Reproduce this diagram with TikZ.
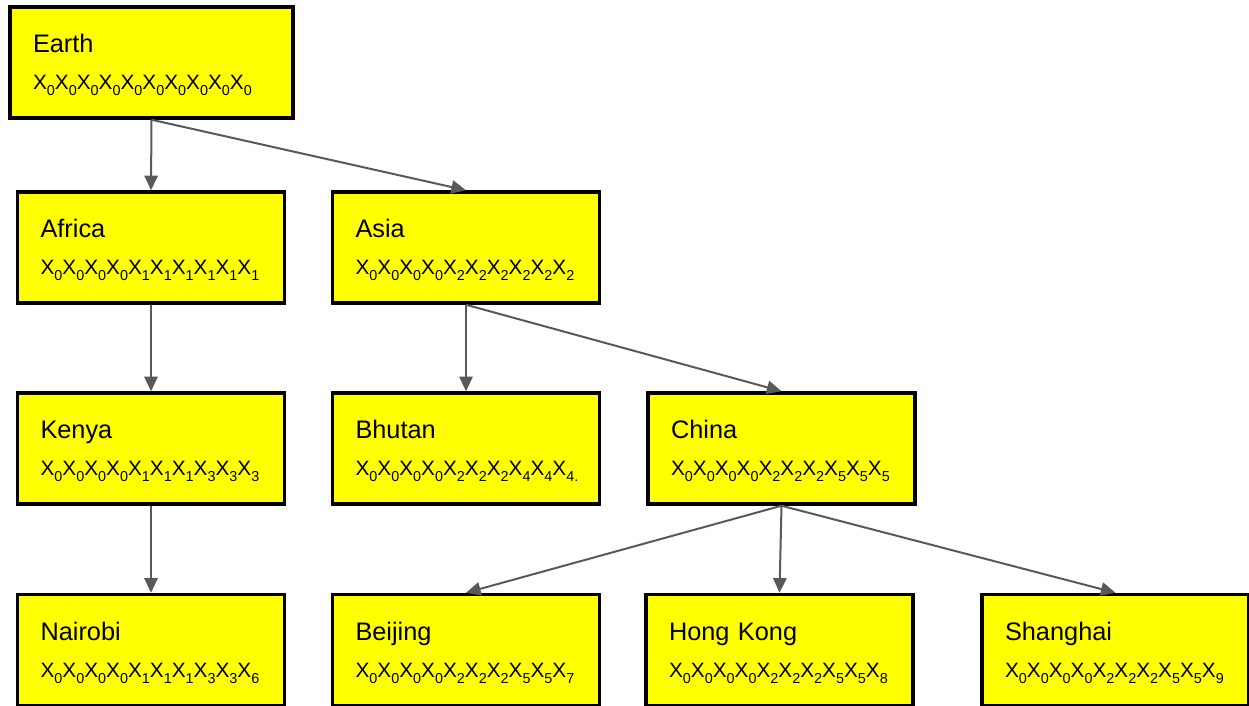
\documentclass[tikz,border=0pt]{standalone}
\usepackage{fontspec}
\setmainfont{Liberation Sans}
\usetikzlibrary{arrows.meta}

\definecolor{linkgray}{RGB}{89,89,89}
\definecolor{boxyellow}{RGB}{255,255,0}
\newcommand\xsub[1]{X\raisebox{-4.5pt}{\fontsize{10.8pt}{10pt}\selectfont #1}}
\newcommand\xrow[1]{{\fontsize{15.6pt}{27.75pt}\selectfont\foreach \d in {#1}{\xsub{\d}}}}

\tikzset{every picture/.style={line width=0.75pt}}
\tikzset{
  place/.style={draw=black, line width=2.6pt, fill=boxyellow, text width=165.75pt, inner xsep=17.25pt, minimum height=83.25pt, align=left, font=\fontsize{19pt}{27.75pt}\selectfont, execute at begin node={\rule{0pt}{18pt}}},
  link/.style={draw=linkgray, line width=1.5pt, -{Triangle[length=11pt,width=10pt]}}
}

\begin{document}
\begin{tikzpicture}[x=0.75pt,y=0.75pt,yscale=-1,xscale=1]
\path[use as bounding box] (0,0) rectangle (1249,706);

% Boxes
\node[place, text width=177.75pt] (earth) at (151.5,62.5) {Earth\\\xrow{0,0,0,0,0,0,0,0,0,0}};
\node[place] (africa) at (151,247.5) {Africa\\\xrow{0,0,0,0,1,1,1,1,1,1}};
\node[place] (asia) at (466,247.5) {Asia\\\xrow{0,0,0,0,2,2,2,2,2,2}};
\node[place] (kenya) at (151,448.5) {Kenya\\\xrow{0,0,0,0,1,1,1,3,3,3}};
\node[place] (bhutan) at (466,448.5) {Bhutan\\\xrow{0,0,0,0,2,2,2,4,4,4.}};
\node[place] (china) at (781.5,448.5) {China\\\xrow{0,0,0,0,2,2,2,5,5,5}};
\node[place] (nairobi) at (151,650) {Nairobi\\\xrow{0,0,0,0,1,1,1,3,3,6}};
\node[place] (beijing) at (466,650) {Beijing\\\xrow{0,0,0,0,2,2,2,5,5,7}};
\node[place] (hongkong) at (779.5,650) {Hong Kong\\\xrow{0,0,0,0,2,2,2,5,5,8}};
\node[place] (shanghai) at (1115.5,650) {Shanghai\\\xrow{0,0,0,0,2,2,2,5,5,9}};

% Links
\draw[link] (earth.south) -- (africa.north);
\draw[link] (earth.south) -- (asia.north);
\draw[link] (africa.south) -- (kenya.north);
\draw[link] (asia.south) -- (bhutan.north);
\draw[link] (asia.south) -- (china.north);
\draw[link] (kenya.south) -- (nairobi.north);
\draw[link] (china.south) -- (beijing.north);
\draw[link] (china.south) -- (hongkong.north);
\draw[link] (china.south) -- (shanghai.north);

\end{tikzpicture}
\end{document}
